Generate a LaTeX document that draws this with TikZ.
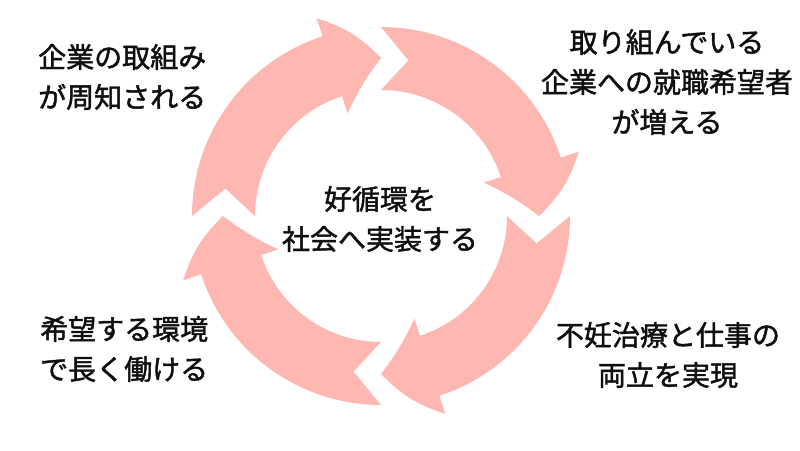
\documentclass[tikz,border=0pt]{standalone}
\usepackage{fontspec}
\newfontfamily\jp[FakeBold=1.6]{Noto Sans CJK JP}
\definecolor{cycpink}{RGB}{255,183,178}
\definecolor{txt}{RGB}{15,15,15}
\tikzset{
  cycarrow/.pic={
    \fill[cycpink] (180:189) arc[start angle=180,end angle=108,radius=189]
      -- (108:208) to[bend left=14] (90:158) to[bend right=6] (108:108) -- (108:126)
      arc[start angle=108,end angle=180,radius=126]
      -- (170:158) -- cycle;
  },
  lbl/.style={inner sep=0pt, text=txt, font=\jp\fontsize{28}{40}\selectfont}
}
\begin{document}
\begin{tikzpicture}[x=1pt,y=1pt]
\useasboundingbox (0,0) rectangle (800,450);
\fill[white] (0,0) rectangle (800,450);
\coordinate (C) at (381,234);
\pic[rotate=0] at (C) {cycarrow};
\pic[rotate=-90] at (C) {cycarrow};
\pic[rotate=-180] at (C) {cycarrow};
\pic[rotate=-270] at (C) {cycarrow};
\node[lbl, align=center] (center) at (380,231) {好循環を\\社会へ実装する};
\node[lbl, align=left, anchor=west] (tl) at (38,373) {企業の取組み\\が周知される};
\node[lbl, align=center] (tr) at (667,368) {取り組んでいる\\企業への就職希望者\\が増える};
\node[lbl, align=center] (br) at (668,95) {不妊治療と仕事の\\両立を実現};
\node[lbl, align=left, anchor=west] (bl) at (40,101) {希望する環境\\で長く働ける};
\end{tikzpicture}
\end{document}
